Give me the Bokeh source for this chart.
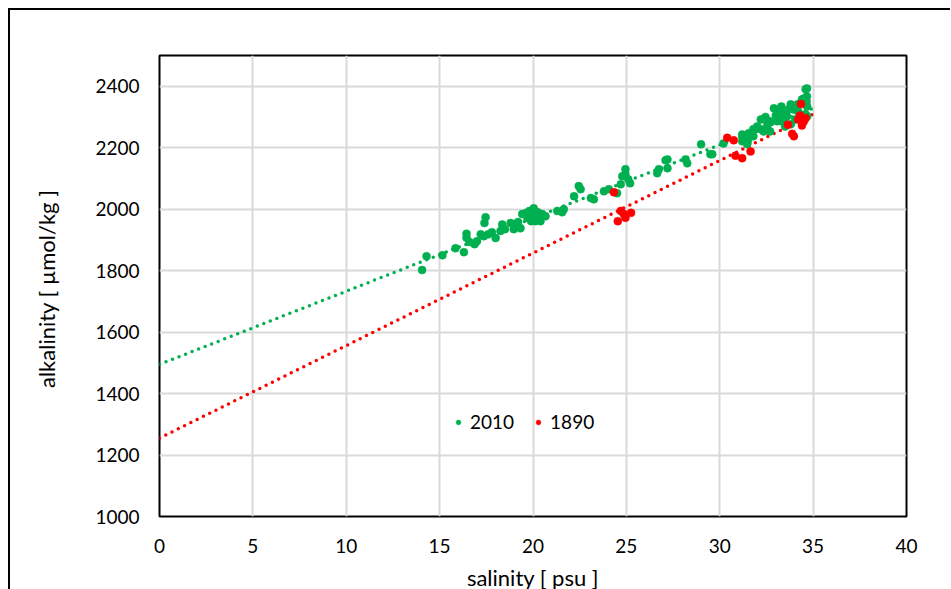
from bokeh.plotting import figure
from bokeh.models import Range1d, FixedTicker, Legend, LegendItem
from bokeh.embed import file_html
from bokeh.resources import INLINE

# ---- data ----
sal_2010 = [14.06, 14.3, 15.15, 15.85, 16.3, 16.44, 16.44, 16.6, 16.87, 17.0,
            17.46, 17.4, 17.2, 17.37, 17.6, 17.8, 18.0, 18.26, 18.35, 18.5,
            18.8, 18.97, 19.33, 19.42, 19.6, 19.7, 19.9, 20.04, 20.13, 20.2,
            20.25, 20.49, 20.67, 20.13, 19.8, 20.4, 19.9, 19.2, 18.97,
            21.3, 21.65, 21.56, 22.2, 22.45, 22.55, 23.1, 23.26, 23.8, 24.06,
            24.5, 24.7, 24.78, 24.95, 24.95, 25.2, 25.1, 26.65, 26.74, 27.2,
            27.1, 27.2, 28.17, 28.26, 29.0, 29.5, 29.6, 30.2,
            31.2, 31.28, 31.5, 31.55, 31.65, 31.2, 31.47, 31.8, 32.0, 32.2,
            32.35, 32.55, 32.55, 32.7, 32.9, 33.07, 33.17, 33.43, 33.43, 33.6,
            33.8, 33.8, 33.9, 33.97, 34.17, 34.3, 34.4, 34.5, 34.6, 34.67,
            34.67, 34.6, 34.68, 34.68, 34.65, 33.0, 33.3, 33.5, 34.05, 33.7,
            34.2, 32.7, 32.2, 31.9, 31.8, 32.45, 33.3]
alk_2010 = [1802, 1847, 1850, 1873, 1860, 1920, 1907, 1893, 1886, 1896,
            1974, 1955, 1918, 1912, 1918, 1925, 1906, 1929, 1950, 1935,
            1955, 1951, 1938, 1984, 1987, 1971, 1961, 2003, 1971, 1977,
            1990, 1984, 1977, 1961, 1994, 1961, 1981, 1958, 1935,
            1994, 2000, 1990, 2042, 2075, 2065, 2036, 2032, 2058, 2065,
            2052, 2081, 2107, 2130, 2114, 2084, 2097, 2117, 2130, 2162,
            2159, 2133, 2162, 2149, 2211, 2179, 2179, 2214,
            2243, 2237, 2221, 2247, 2237, 2221, 2211, 2237, 2269, 2292,
            2253, 2263, 2276, 2286, 2328, 2286, 2312, 2292, 2318, 2302,
            2341, 2276, 2328, 2324, 2341, 2308, 2357, 2360, 2390, 2393,
            2367, 2308, 2302, 2334, 2350, 2305, 2334, 2269, 2292, 2325,
            2318, 2253, 2260, 2260, 2260, 2300, 2286]

sal_1890 = [24.33, 24.7, 24.95, 24.54, 25.25, 24.85, 30.4, 30.75, 30.84, 31.2,
            31.65, 33.65, 33.88, 33.97, 34.35, 34.3, 34.4, 34.6, 34.5, 34.2]
alk_1890 = [2055, 1994, 1972, 1961, 1988, 1985, 2232, 2224, 2174, 2166,
            2188, 2275, 2245, 2237, 2342, 2305, 2272, 2296, 2285, 2292]

# linear trend lines (end points)
trend_x = [0, 35]
trend_2010 = [1495, 2328]
trend_1890 = [1255, 2309]

x_ticks = [0, 5, 10, 15, 20, 25, 30, 35, 40]
y_ticks = [1000, 1200, 1400, 1600, 1800, 2000, 2200, 2400]

GREEN = "#00b050"
RED = "#ff0000"
FONT = "Lato"
TICK_SIZE = "19px"
TITLE_SIZE = "22px"

p = figure(output_backend="svg", toolbar_location=None,
           frame_width=747, frame_height=461,
           min_border_left=149, min_border_top=45, min_border_right=44,
           min_border_bottom=72,
           x_range=Range1d(0, 40), y_range=Range1d(1000, 2500))
p.styles = {"border-left": "2px solid black", "border-top": "2px solid black",
            "margin-left": "8px", "margin-top": "8px"}

p.outline_line_color = "black"
p.outline_line_width = 2
p.background_fill_color = "white"
p.border_fill_color = "white"

p.xaxis.ticker = FixedTicker(ticks=x_ticks)
p.yaxis.ticker = FixedTicker(ticks=y_ticks)
for ax in (p.xaxis, p.yaxis):
    ax.axis_line_color = None
    ax.major_tick_line_color = None
    ax.minor_tick_line_color = None
    ax.major_tick_out = 0
    ax.major_tick_in = 0
    ax.major_label_text_font = FONT
    ax.major_label_text_font_size = TICK_SIZE
    ax.major_label_text_color = "black"
    ax.axis_label_text_font = FONT
    ax.axis_label_text_font_size = TITLE_SIZE
    ax.axis_label_text_font_style = "normal"
    ax.axis_label_text_color = "black"

p.xaxis.axis_label = "salinity [ psu ]"
p.yaxis.axis_label = "alkalinity  [ µmol/kg ]"
p.xaxis.major_label_standoff = 22
p.yaxis.major_label_standoff = 20
p.xaxis.axis_label_standoff = 8
p.yaxis.axis_label_standoff = 32

p.xgrid.grid_line_color = "#d9d9d9"
p.ygrid.grid_line_color = "#d9d9d9"
p.xgrid.grid_line_width = 2
p.ygrid.grid_line_width = 2

p.line(trend_x, trend_2010, line_color=GREEN, line_width=3.5,
       line_dash="0 7", line_cap="round")
p.line(trend_x, trend_1890, line_color=RED, line_width=3.5,
       line_dash="0 7", line_cap="round")

r_green = p.scatter(sal_2010, alk_2010, size=8, fill_color=GREEN,
                    line_color=GREEN, line_width=0.5)
r_red = p.scatter(sal_1890, alk_1890, size=8, fill_color=RED,
                  line_color=RED, line_width=0.5)

legend = Legend(items=[LegendItem(label="2010", renderers=[r_green]),
                       LegendItem(label="1890", renderers=[r_red])],
                location=(293, 83), orientation="horizontal")
legend.background_fill_alpha = 0
legend.border_line_color = None
legend.padding = 0
legend.margin = 0
legend.glyph_width = 12
legend.glyph_height = 20
legend.label_standoff = 6
legend.spacing = 18
legend.label_text_font = FONT
legend.label_text_font_size = TICK_SIZE
legend.label_text_color = "black"
p.add_layout(legend, "center")

open("out.html", "w").write(file_html(p, INLINE))
